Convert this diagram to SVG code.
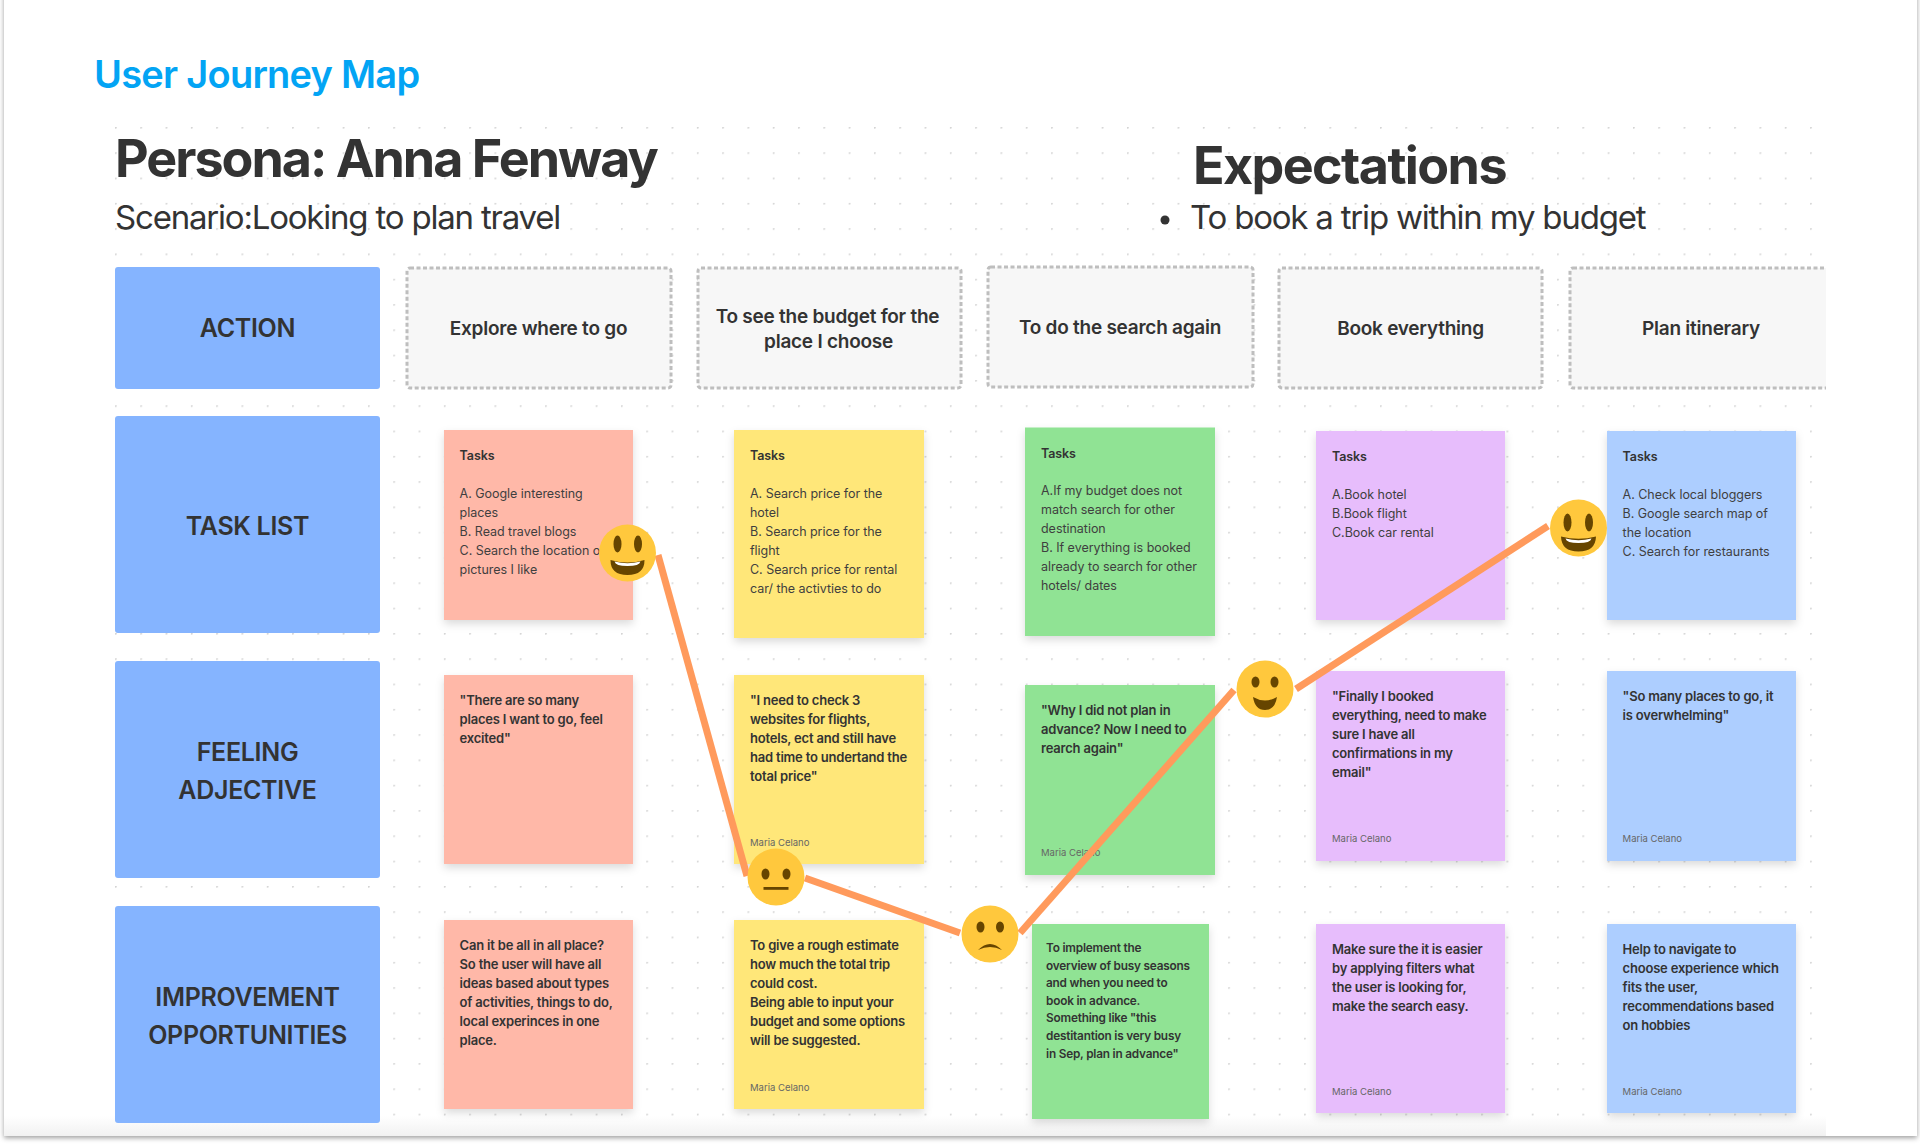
<svg xmlns="http://www.w3.org/2000/svg" width="1920" height="1144" viewBox="0 0 1920 1144">
<style>
text{font-family:Inter,"Liberation Sans",sans-serif;fill:#333}
.h{font-size:25px;font-weight:600;text-anchor:middle;letter-spacing:-.3px}
.a{font-size:19px;font-weight:600;text-anchor:middle;letter-spacing:-.25px}
.r{fill:#85B4FF;stroke:none}
.d{fill:#F7F7F7;stroke:#BEBEBE;stroke-width:3;stroke-dasharray:4 2.500}
.s{filter:url(#sh)}
.t{font-size:12.5px;fill:#3F3F3F;letter-spacing:-.03px}
.b{font-size:13px;font-weight:600;fill:#333;letter-spacing:-.2px}
.g{font-size:11.800px}
.n{font-size:12.500px;letter-spacing:-.1px}
.m{font-size:9.500px;fill:#666}
.e{fill:#FFC83D}
.k{fill:#664500}
.l{stroke:#FF9A5C;stroke-width:7;fill:none}
</style>
<defs>
<pattern id="dots" x="115" y="127" width="25.3" height="25.3" patternUnits="userSpaceOnUse"><circle cx="0.8" cy="0.8" r="1" fill="#D4D4D4"/></pattern>
<filter id="sh" x="-10%" y="-10%" width="120%" height="120%"><feDropShadow dx="0" dy="4" stdDeviation="4" flood-color="#000" flood-opacity=".14"/></filter>
<filter id="card" x="-1%" y="-1%" width="102%" height="102%"><feDropShadow dx="0" dy="2" stdDeviation="2.500" flood-color="#000" flood-opacity=".38"/></filter>
<linearGradient id="fade" x1="0" y1="0" x2="0" y2="1"><stop offset="0" stop-color="#fff"/><stop offset="1" stop-color="#F1F1F1"/></linearGradient>
<clipPath id="cut"><rect x="0" y="0" width="1826" height="1144"/></clipPath>
</defs>
<rect width="1920" height="1144" fill="#fff"/>
<rect x="4" y="-20" width="1913" height="1156" fill="#fff" filter="url(#card)"/>
<rect x="114" y="126" width="1712" height="1000" fill="url(#dots)"/>
<rect x="4" y="1116" width="1822" height="20" fill="url(#fade)"/>

<g id="headings">
<text x="94" y="88" font-size="38" font-weight="600" letter-spacing="-.75" style="fill:#03A4F4">User Journey Map</text>
<text x="115" y="177" font-size="52" font-weight="700" letter-spacing="-2">Persona: Anna Fenway</text>
<text x="115" y="229" font-size="33" letter-spacing="-1.200">Scenario:Looking to plan travel</text>
<text x="1193" y="184" font-size="52" font-weight="700" letter-spacing="-1.600">Expectations</text>
<circle cx="1165" cy="220" r="4.500" fill="#333"/>
<text x="1190" y="229" font-size="33" letter-spacing="-1.200">To book a trip within my budget</text>
</g>

<g id="row-action"><rect class="r" x="115" y="267" width="265" height="122" rx="3"/><text class="h" x="247.500" y="337">ACTION</text></g>
<g id="row-task"><rect class="r" x="115" y="416" width="265" height="217" rx="3"/><text class="h" x="247.500" y="534.500">TASK LIST</text></g>
<g id="row-feeling"><rect class="r" x="115" y="661" width="265" height="217" rx="3"/><text class="h" x="247.500" y="760.500">FEELING</text><text class="h" x="247.500" y="798.500">ADJECTIVE</text></g>
<g id="row-improvement"><rect class="r" x="115" y="906" width="265" height="217" rx="3"/><text class="h" x="247.500" y="1005.500">IMPROVEMENT</text><text class="h" x="247.500" y="1043.500">OPPORTUNITIES</text></g>

<g id="action-1"><rect class="d" x="407" y="268" width="264" height="120" rx="3"/><text class="a" x="538.500" y="335">Explore where to go</text></g>
<g id="action-2"><rect class="d" x="698" y="268" width="263" height="120" rx="3"/><text class="a" x="827.500" y="322.500">To see the budget for the</text><text class="a" x="828.500" y="348">place I choose</text></g>
<g id="action-3"><rect class="d" x="988" y="267" width="265" height="120" rx="3"/><text class="a" x="1120" y="333.500">To do the search again</text></g>
<g id="action-4"><rect class="d" x="1279" y="268" width="263" height="120" rx="3"/><text class="a" x="1410.500" y="335">Book everything</text></g>
<g id="action-5" clip-path="url(#cut)"><rect class="d" x="1570" y="268" width="264" height="120" rx="3"/><text class="a" x="1701" y="335">Plan itinerary</text></g>

<g id="task-1"><rect class="s" x="444" y="430" width="189" height="190" fill="#FFB8A8"/>
<text class="b n" x="459.600" y="460">Tasks</text>
<text class="t" x="459.600" y="498">A. Google interesting</text><text class="t" x="459.600" y="517">places</text><text class="t" x="459.600" y="536">B. Read travel blogs</text><text class="t" x="459.600" y="555">C. Search the location o</text><text class="t" x="459.600" y="574">pictures I like</text></g>
<g id="task-2"><rect class="s" x="734" y="430" width="190" height="208" fill="#FFE779"/>
<text class="b n" x="750" y="460">Tasks</text>
<text class="t" x="750" y="498">A. Search price for the</text><text class="t" x="750" y="517">hotel</text><text class="t" x="750" y="536">B. Search price for the</text><text class="t" x="750" y="555">flight</text><text class="t" x="750" y="574">C. Search price for rental</text><text class="t" x="750" y="593">car/ the activties to do</text></g>
<g id="task-3"><rect class="s" x="1025" y="427.500" width="190" height="208.500" fill="#90E394"/>
<text class="b n" x="1041" y="457.500">Tasks</text>
<text class="t" x="1041" y="495">A.If my budget does not</text><text class="t" x="1041" y="514">match search for other</text><text class="t" x="1041" y="533">destination</text><text class="t" x="1041" y="552">B. If everything is booked</text><text class="t" x="1041" y="571">already to search for other</text><text class="t" x="1041" y="590">hotels/ dates</text></g>
<g id="task-4"><rect class="s" x="1316" y="431" width="189" height="189" fill="#E7BDFC"/>
<text class="b n" x="1332" y="460.500">Tasks</text>
<text class="t" x="1332" y="498.500">A.Book hotel</text><text class="t" x="1332" y="517.500">B.Book flight</text><text class="t" x="1332" y="536.500">C.Book car rental</text></g>
<g id="task-5"><rect class="s" x="1607" y="431" width="189" height="189" fill="#ADCEFF"/>
<text class="b n" x="1622.600" y="460.500">Tasks</text>
<text class="t" x="1622.600" y="498.500">A. Check local bloggers</text><text class="t" x="1622.600" y="517.500">B. Google search map of</text><text class="t" x="1622.600" y="536.500">the location</text><text class="t" x="1622.600" y="555.500">C. Search for restaurants</text></g>

<g id="feel-1"><rect class="s" x="444" y="675" width="189" height="189" fill="#FFB8A8"/>
<text class="b" x="459.600" y="705">"There are so many</text><text class="b" x="459.600" y="724">places I want to go, feel</text><text class="b" x="459.600" y="743">excited"</text></g>
<g id="feel-2"><rect class="s" x="734" y="675" width="190" height="189" fill="#FFE779"/>
<text class="b" x="750" y="705">"I need to check 3</text><text class="b" x="750" y="724">websites for flights,</text><text class="b" x="750" y="743">hotels, ect and still have</text><text class="b" x="750" y="762">had time to undertand the</text><text class="b" x="750" y="781">total price"</text><text class="m" x="750" y="846">Maria Celano</text></g>
<g id="feel-3"><rect class="s" x="1025" y="685" width="190" height="190" fill="#90E394"/>
<text class="b" x="1041" y="715">"Why I did not plan in</text><text class="b" x="1041" y="734">advance? Now I need to</text><text class="b" x="1041" y="753">rearch again"</text><text class="m" x="1041" y="856">Maria Celano</text></g>
<g id="feel-4"><rect class="s" x="1316" y="671" width="189" height="190" fill="#E7BDFC"/>
<text class="b" x="1332" y="701">"Finally I booked</text><text class="b" x="1332" y="720">everything, need to make</text><text class="b" x="1332" y="739">sure I have all</text><text class="b" x="1332" y="758">confirmations in my</text><text class="b" x="1332" y="777">email"</text><text class="m" x="1332" y="842">Maria Celano</text></g>
<g id="feel-5"><rect class="s" x="1607" y="671" width="189" height="190" fill="#ADCEFF"/>
<text class="b" x="1622.600" y="701">"So many places to go, it</text><text class="b" x="1622.600" y="720">is overwhelming"</text><text class="m" x="1622.600" y="842">Maria Celano</text></g>

<g id="opp-1"><rect class="s" x="444" y="920" width="189" height="189" fill="#FFB8A8"/>
<text class="b" x="459.600" y="950">Can it be all in all place?</text><text class="b" x="459.600" y="969">So the user will have all</text><text class="b" x="459.600" y="988">ideas based about types</text><text class="b" x="459.600" y="1007">of activities, things to do,</text><text class="b" x="459.600" y="1026">local experinces in one</text><text class="b" x="459.600" y="1045">place.</text></g>
<g id="opp-2"><rect class="s" x="734" y="920" width="190" height="189" fill="#FFE779"/>
<text class="b" x="750" y="950">To give a rough estimate</text><text class="b" x="750" y="969">how much the total trip</text><text class="b" x="750" y="988">could cost.</text><text class="b" x="750" y="1007">Being able to input your</text><text class="b" x="750" y="1026">budget and some options</text><text class="b" x="750" y="1045">will be suggested.</text><text class="m" x="750" y="1091">Maria Celano</text></g>
<g id="opp-3"><rect class="s" x="1032" y="924" width="177" height="195" fill="#90E394"/>
<text class="b g" x="1046" y="952">To implement the</text><text class="b g" x="1046" y="969.500">overview of busy seasons</text><text class="b g" x="1046" y="987">and when you need to</text><text class="b g" x="1046" y="1005">book in advance.</text><text class="b g" x="1046" y="1022">Something like "this</text><text class="b g" x="1046" y="1040">destitantion is very busy</text><text class="b g" x="1046" y="1057.500">in Sep, plan in advance"</text></g>
<g id="opp-4"><rect class="s" x="1316" y="924" width="189" height="189" fill="#E7BDFC"/>
<text class="b" x="1332" y="954">Make sure the it is easier</text><text class="b" x="1332" y="973">by applying filters what</text><text class="b" x="1332" y="992">the user is looking for,</text><text class="b" x="1332" y="1011">make the search easy.</text><text class="m" x="1332" y="1095">Maria Celano</text></g>
<g id="opp-5"><rect class="s" x="1607" y="924" width="189" height="189" fill="#ADCEFF"/>
<text class="b" x="1622.600" y="954">Help to navigate to</text><text class="b" x="1622.600" y="973">choose experience which</text><text class="b" x="1622.600" y="992">fits the user,</text><text class="b" x="1622.600" y="1011">recommendations based</text><text class="b" x="1622.600" y="1030">on hobbies</text><text class="m" x="1622.600" y="1095">Maria Celano</text></g>

<g id="connectors">
<path class="l" d="M658 555L747 876"/>
<path class="l" d="M805 878L960 933"/>
<path class="l" d="M1020 933L1234 690"/>
<path class="l" d="M1296 689L1548 526"/>
</g>

<g id="emoji-grin-1" transform="translate(627.500 553)"><circle class="e" r="28.500"/><ellipse class="k" cx="-10" cy="-9" rx="4" ry="8.500"/><ellipse class="k" cx="10.500" cy="-9" rx="4" ry="8.500"/><path class="k" d="M-17 7Q0 12 17 7Q17 22 0 22Q-17 22-17 7Z"/><path d="M-13 8.500Q0 12 13 8.500Q12 13 0 13Q-12 13-13 8.500Z" fill="#fff"/></g>
<g id="emoji-neutral" transform="translate(776 877)"><circle class="e" r="28.500"/><ellipse class="k" cx="-10.500" cy="-3" rx="4" ry="5.500"/><ellipse class="k" cx="10.500" cy="-3" rx="4" ry="5.500"/><rect class="k" x="-12.500" y="10" width="25" height="2.800"/></g>
<g id="emoji-sad" transform="translate(990 934)"><circle class="e" r="28.500"/><ellipse class="k" cx="-9.500" cy="-7" rx="4" ry="5.500"/><ellipse class="k" cx="10" cy="-7" rx="4" ry="5.500"/><path class="k" d="M-12 16Q0 4 12 16Q0 10-12 16Z"/></g>
<g id="emoji-smile" transform="translate(1265 689)"><circle class="e" r="28.500"/><ellipse class="k" cx="-9.500" cy="-7" rx="4" ry="5.500"/><ellipse class="k" cx="9.500" cy="-7" rx="4" ry="5.500"/><path class="k" d="M-12 8Q0 15 12 8Q10 21 0 21Q-10 21-12 8Z"/></g>
<g id="emoji-grin-2" transform="translate(1578.500 528)"><circle class="e" r="28.500"/><ellipse class="k" cx="-11" cy="-5.500" rx="4" ry="9"/><ellipse class="k" cx="10.500" cy="-5.500" rx="4" ry="9"/><path class="k" d="M-17.500 8.500Q0 13 17.500 8.500Q17 23.500 0 23.500Q-17 23.500-17.500 8.500Z"/><path d="M-13 10.500Q0 14 13 10.500Q12 15 0 15Q-12 15-13 10.500Z" fill="#fff"/></g>
</svg>
